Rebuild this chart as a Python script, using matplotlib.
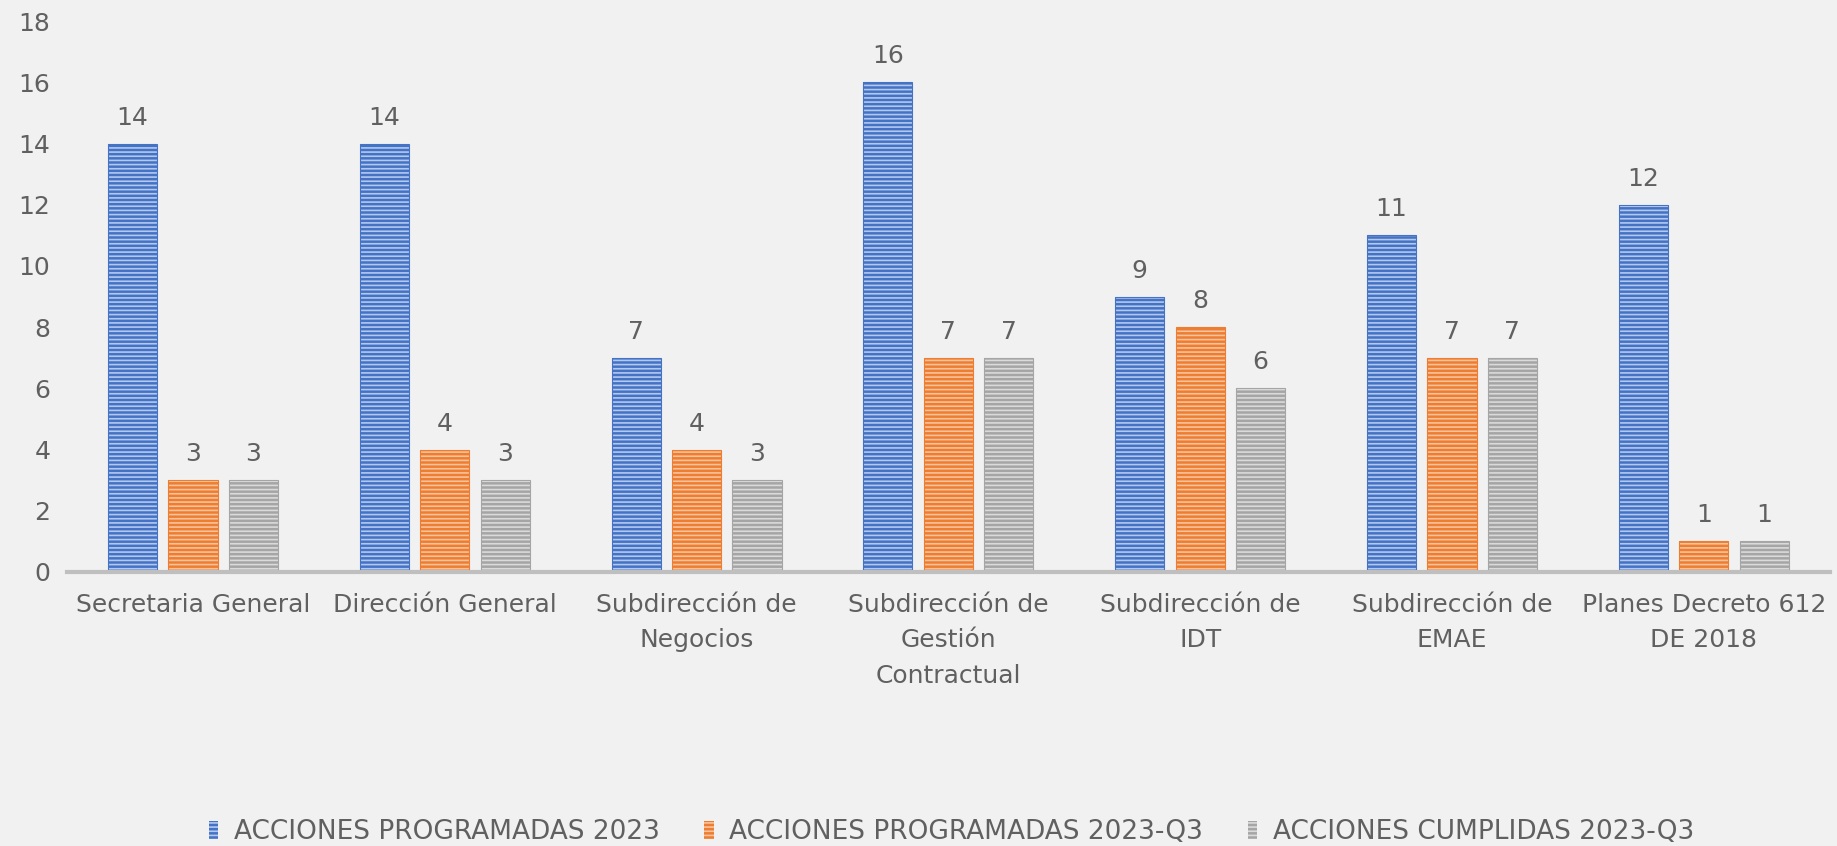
import matplotlib.pyplot as plt
import numpy as np

categories = ["Secretaria General", "Dirección General", "Subdirección de\nNegocios",
              "Subdirección de\nGestión\nContractual", "Subdirección de\nIDT",
              "Subdirección de\nEMAE", "Planes Decreto 612\nDE 2018"]
programadas = [14, 14, 7, 16, 9, 11, 12]
programadas_q3 = [3, 4, 4, 7, 8, 7, 1]
cumplidas_q3 = [3, 3, 3, 7, 6, 7, 1]
series_names = ["ACCIONES PROGRAMADAS 2023", "ACCIONES PROGRAMADAS 2023-Q3",
                "ACCIONES CUMPLIDAS 2023-Q3"]

plt.rcParams['font.family'] = ['DejaVu Sans']
plt.rcParams['hatch.linewidth'] = 1.2
text_color = '#606060'
bg = '#f1f1f1'

fig = plt.figure(figsize=(18.37, 8.46), dpi=100, facecolor=bg)
ax = fig.add_axes([0.0365, 0.324, 0.9595, 0.651])
ax.set_facecolor(bg)

x = np.arange(len(categories))
width = 0.195
offset = 0.24
styles = [('#4472c4', '#b3c8ee'), ('#ed7d31', '#f9c29c'), ('#a5a5a5', '#dadada')]
handles = []
for i, (vals, name) in enumerate(zip([programadas, programadas_q3, cumplidas_q3], series_names)):
    base, light = styles[i]
    bars = ax.bar(x + (i - 1) * offset, vals, width, color=base, edgecolor=light,
                  linewidth=0, hatch='----', label=name, zorder=3)
    ax.bar(x + (i - 1) * offset, vals, width, facecolor='none', edgecolor=base,
           linewidth=0.8, zorder=4)
    ax.bar_label(bars, padding=10, fontsize=18, color=text_color)
    handles.append(bars)

ax.set_ylim(0, 18)
ax.set_yticks(range(0, 19, 2))
ax.set_xlim(-0.5, len(categories) - 0.5)
ax.set_xticks(x)
ax.set_xticklabels(categories, linespacing=1.6)
ax.tick_params(axis='both', length=0, labelsize=18, labelcolor=text_color)
ax.tick_params(axis='y', pad=12)
ax.tick_params(axis='x', pad=15)
for side in ['top', 'right', 'left']:
    ax.spines[side].set_visible(False)
ax.spines['bottom'].set_color('#bfbfbf')
ax.spines['bottom'].set_linewidth(3)
ax.spines['bottom'].set_zorder(5)

fig.legend(handles=handles, loc='center', bbox_to_anchor=(0.518, 0.016), ncol=3,
           frameon=False, fontsize=19, labelcolor=text_color, handlelength=0.35,
           handleheight=0.65, handletextpad=0.6, columnspacing=1.7)

fig.savefig('out.png', dpi=100, facecolor=bg)
